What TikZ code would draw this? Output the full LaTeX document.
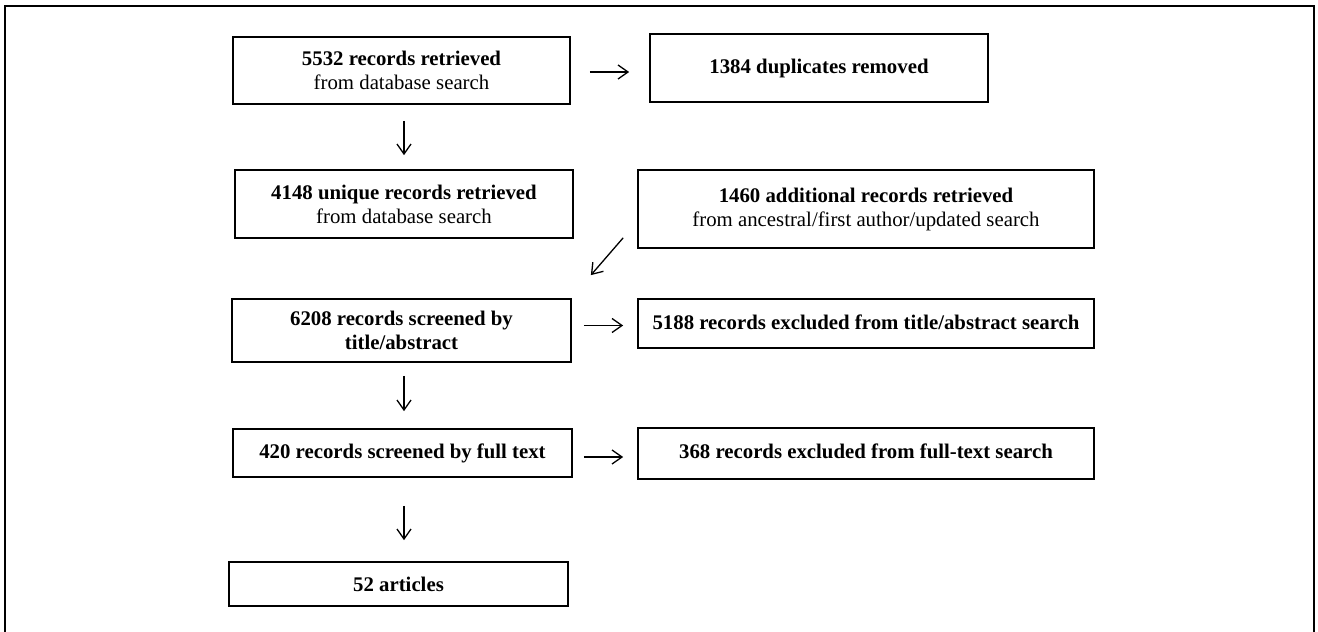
\documentclass[tikz,border=0pt]{standalone}
\usepackage{fontspec}
\setmainfont{Liberation Serif}
\usetikzlibrary{arrows.meta}
\begin{document}
\begin{tikzpicture}[x=1pt,y=-1pt,
  box/.style={draw=black, line width=1.7pt, rectangle, inner sep=0pt, align=center,
    font=\fontsize{20.8}{24}\selectfont},
  arr/.style={line width=1.3pt, -{Straight Barb[length=10pt,width=14pt,line width=1.3pt]}}]
\path[use as bounding box] (0,0) rectangle (1318,632);
\begin{scope}
\clip (0,0) rectangle (1318,632);
\draw[line width=1.5pt] (5,6) rectangle (1314,660);
\end{scope}
\node[box, minimum width=337pt, minimum height=67pt] (b1) at (401.5,70.5)
  {\textbf{5532 records retrieved}\\from database search};
\node[box, minimum width=338pt, minimum height=68pt] (dup) at (819,68)
  {\textbf{1384 duplicates removed}};
\node[box, minimum width=338pt, minimum height=68pt] (b2) at (404,204)
  {\textbf{4148 unique records retrieved}\\from database search};
\node[box, minimum width=456pt, minimum height=78pt] (add) at (866,209)
  {\textbf{1460 additional records retrieved}\\from ancestral/first author/updated search};
\node[box, minimum width=339pt, minimum height=63pt] (scr) at (401.5,330.5)
  {\textbf{6208 records screened by}\\\textbf{title/abstract}};
\node[box, minimum width=456pt, minimum height=49pt] (exc1) at (866,323.5)
  {\raisebox{3pt}{\textbf{5188 records excluded from title/abstract search}}};
\node[box, minimum width=339pt, minimum height=48pt] (full) at (402.5,453)
  {\raisebox{-6pt}{\textbf{420 records screened by full text}}};
\node[box, minimum width=456pt, minimum height=51pt] (exc2) at (866,453.5)
  {\raisebox{5pt}{\textbf{368 records excluded from full-text search}}};
\node[box, minimum width=339pt, minimum height=44pt] (art) at (398.5,584)
  {\textbf{52 articles}};
% arrow start points
\coordinate (s1) at ([xshift=19pt,yshift=-1.5pt]b1.east);
\coordinate (s2) at ([xshift=2.5pt]b1.south);
\coordinate (s3) at ([xshift=-14pt,yshift=11pt]add.south west);
\coordinate (e3) at ([xshift=19pt,yshift=23pt]scr.north east);
\coordinate (s4) at ([xshift=12pt,yshift=5pt]scr.east);
\coordinate (s5) at ([xshift=2.5pt]scr.south);
\coordinate (s6) at ([xshift=11pt,yshift=-4pt]full.east);
\coordinate (s7) at ([xshift=1.5pt]full.south);
% arrows
\draw[arr, shorten >=20pt] (s1) -- (s1 -| dup.west);
\draw[arr, shorten <=16pt, shorten >=14pt] (s2) -- (s2 |- b2.north);
\draw[arr] (s3) -- (e3);
\draw[arr, shorten >=14pt] (s4) -- (s4 -| exc1.west);
\draw[arr, shorten <=13pt, shorten >=17pt] (s5) -- (s5 |- full.north);
\draw[arr, shorten >=14pt] (s6) -- (s6 -| exc2.west);
\draw[arr, shorten <=28pt, shorten >=21pt] (s7) -- (s7 |- art.north);
\end{tikzpicture}
\end{document}
